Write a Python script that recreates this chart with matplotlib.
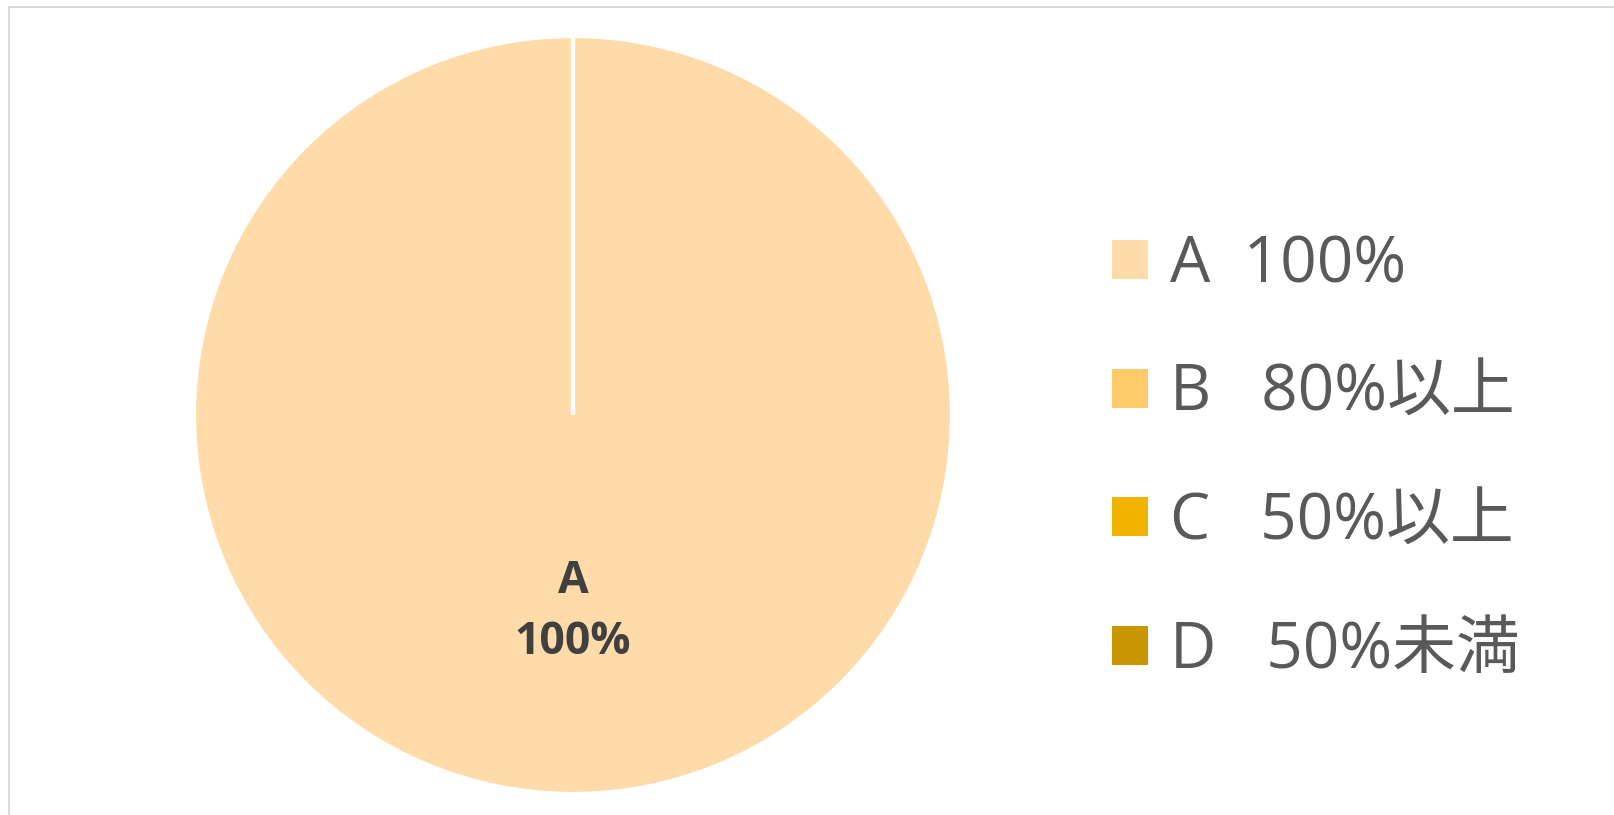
import matplotlib.pyplot as plt
from matplotlib.patches import Patch, Rectangle

plt.rcParams['font.family'] = ['Open Sans', 'Noto Sans CJK JP', 'DejaVu Sans']

categories = ["A", "B", "C", "D"]
descriptions = ["100%", "80%以上", "50%以上", "50%未満"]
gaps = ["  ", "   ", "   ", "   "]
values = [100, 0, 0, 0]
colors = ["#FFDBAA", "#FFCA6A", "#F0B300", "#C89600"]

fig = plt.figure(figsize=(16.14, 8.15), dpi=100)
ax = fig.add_axes([193 / 1614, 21 / 815, 760 / 1614, 758 / 815])

pie_labels = [c + "\n" + d if v > 0 else "" for c, d, v in zip(categories, descriptions, values)]
wedges, texts = ax.pie(values, colors=colors, startangle=90, counterclock=False,
                       labels=pie_labels, labeldistance=0.52,
                       wedgeprops=dict(edgecolor="white", linewidth=3),
                       textprops=dict(fontsize=32, fontweight="bold", color="#404040"))
for t in texts:
    t.set_ha("center")
    t.set_linespacing(1.45)
ax.set_xlim(-1, 1)
ax.set_ylim(-1, 1)

# legend on the right
handles = [Patch(facecolor=c, edgecolor="none") for c in colors]
leg_labels = [c + g + d for c, g, d in zip(categories, gaps, descriptions)]
fig.legend(handles, leg_labels, loc="center left", bbox_to_anchor=(1112 / 1614, 1 - 458 / 815),
           frameon=False, fontsize=46, handlelength=0.563, handleheight=0.563,
           handletextpad=0.34, labelspacing=1.01, borderpad=0, borderaxespad=0,
           labelcolor="#595959")

# chart area border
fig.patches.append(Rectangle((8.5 / 1614, -0.2), 1.5, 1.2 - 6.5 / 815, transform=fig.transFigure,
                             fill=False, edgecolor="#D9D9D9", linewidth=1.5))

fig.savefig("out.png", dpi=100)
